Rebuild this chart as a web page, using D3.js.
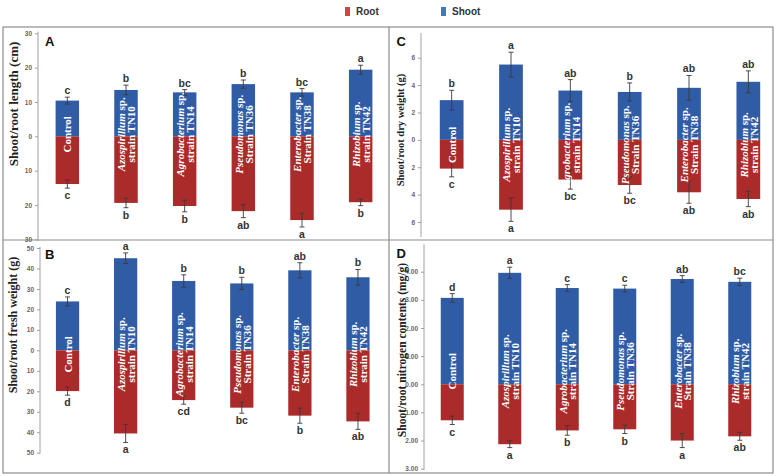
<!DOCTYPE html>
<html><head><meta charset="utf-8">
<script src="https://cdn.jsdelivr.net/npm/d3@7"></script>
<style>body{margin:0;background:#fff}svg{display:block}</style>
</head><body><svg id="chart" width="777" height="476"></svg>
<script>
// ---------- DATA ----------
const categories = ["Control","Azospirillum","Agrobacterium","Pseudomonas","Enterobacter","Rhizobium"];
const labelGenus  = ["Control","Azospirillum","Agrobacterium","Pseudomonas","Enterobacter","Rhizobium"];
const labelStrain = ["","strain TN10","strain TN14","Strain TN36","Strain TN38","strain TN42"];
const legendLabels = ["Root","Shoot"];

// A: Shoot/root length (cm)
const lengthShoot = [10.4, 13.5, 12.8, 15.2, 12.8, 19.4];
const lengthShootErr = [1.0, 1.4, 0.8, 1.2, 1.1, 1.3];
const lengthRoot = [13.9, 19.4, 20.3, 21.8, 24.4, 19.2];
const lengthRootErr = [1.2, 1.4, 1.7, 1.9, 2.0, 1.0];
const lengthShootLetters = ["c","b","bc","b","bc","a"];
const lengthRootLetters = ["c","b","b","ab","a","b"];
const lengthTicks = [30,20,10,0,-10,-20,-30];

// B: Shoot/root fresh weight (g)
const freshShoot = [23.9, 45.0, 33.9, 32.7, 39.1, 35.7];
const freshShootErr = [2.2, 2.6, 3.0, 3.0, 3.7, 3.8];
const freshRoot = [19.9, 40.6, 24.3, 28.0, 31.9, 34.7];
const freshRootErr = [2.0, 4.4, 2.0, 2.7, 3.7, 3.9];
const freshShootLetters = ["c","a","b","b","ab","b"];
const freshRootLetters = ["d","a","cd","bc","b","ab"];
const freshTicks = [50,40,30,20,10,0,-10,-20,-30,-40,-50];

// C: Shoot/root dry weight (g)
const dryShoot = [2.9, 5.5, 3.6, 3.5, 3.8, 4.24];
const dryShootErr = [0.72, 0.9, 0.8, 0.66, 0.9, 0.8];
const dryRoot = [2.1, 5.1, 2.9, 3.3, 3.83, 4.32];
const dryRootErr = [0.6, 0.85, 0.7, 0.6, 0.8, 0.56];
const dryShootLetters = ["b","a","ab","b","ab","ab"];
const dryRootLetters = ["c","a","bc","bc","ab","ab"];
const dryTicks = [6,4,2,0,-2,-4,-6];

// D: Shoot/root nitrogen contents (mg/g)
const nitroShoot = [3.07, 3.96, 3.42, 3.40, 3.74, 3.64];
const nitroShootErr = [0.15, 0.2, 0.12, 0.12, 0.12, 0.13];
const nitroRoot = [1.28, 2.13, 1.64, 1.60, 2.00, 1.85];
const nitroRootErr = [0.15, 0.12, 0.17, 0.15, 0.25, 0.14];
const nitroShootLetters = ["d","a","c","c","ab","bc"];
const nitroRootLetters = ["c","a","b","b","a","ab"];
const nitroTicks = [4,3,2,1,0,-1,-2,-3];

// ---------- LAYOUT / STYLE ----------
const RED = "#ab2a2a", BLUE = "#2f5ca5";
const SERIF = "'Liberation Serif','Times New Roman',serif";
const SANS = "'Liberation Sans',Arial,sans-serif";

const panels = [
  {letter:"A", title:"Shoot/root length (cm)", shoot:lengthShoot, shootErr:lengthShootErr, root:lengthRoot, rootErr:lengthRootErr,
   sL:lengthShootLetters, rL:lengthRootLetters, ticks:lengthTicks, fmt:d3.format("d"),
   domain:[30,-30], yRange:[33.3,239.3], axisExt:[30.5,-30.5], xRange:[38,390], axisX:38,
   titleX:13, titleY:104, titleSize:13, letterX:45, letterY:46, labelShift:-2},
  {letter:"B", title:"Shoot/root fresh weight (g)", shoot:freshShoot, shootErr:freshShootErr, root:freshRoot, rootErr:freshRootErr,
   sL:freshShootLetters, rL:freshRootLetters, ticks:freshTicks, fmt:d3.format("d"),
   domain:[50,-50], yRange:[248,452.7], axisExt:[50.5,-50.5], xRange:[38.5,387], axisX:40,
   titleX:13, titleY:325, titleSize:12, letterX:45, letterY:259, labelShift:4},
  {letter:"C", title:"Shoot/root dry weight (g)", shoot:dryShoot, shootErr:dryShootErr, root:dryRoot, rootErr:dryRootErr,
   sL:dryShootLetters, rL:dryRootLetters, ticks:dryTicks, fmt:d3.format("d"),
   domain:[6,-6], yRange:[57.7,222], axisExt:[7.8,-7.1], xRange:[422,778], axisX:421,
   titleX:400, titleY:130, titleSize:10.5, letterX:396.5, letterY:46, labelShift:5},
  {letter:"D", title:"Shoot/root nitrogen contents (mg/g)", shoot:nitroShoot, shootErr:nitroShootErr, root:nitroRoot, rootErr:nitroRootErr,
   sL:nitroShootLetters, rL:nitroRootLetters, ticks:nitroTicks, fmt:d3.format(".2f"),
   domain:[4,-3], yRange:[271.7,468.7], axisExt:[4.97,-3.05], xRange:[423.5,768.5], axisX:424,
   titleX:402, titleY:350, titleSize:11.5, letterX:396.5, letterY:258, labelShift:-13}
];

const svg = d3.select("#chart");
svg.append("rect").attr("width",777).attr("height",476).attr("fill","#fff");

// legend
const legendX = d3.scaleOrdinal().domain(legendLabels).range([345, 441]);
const legendColor = d3.scaleOrdinal().domain(legendLabels).range(["#cf4446","#3b7bc4"]);
legendLabels.forEach(l => {
  svg.append("rect").attr("x", legendX(l)).attr("y", 7).attr("width", 5).attr("height", 9).attr("fill", legendColor(l));
  svg.append("text").attr("x", legendX(l) + 11).attr("y", 15).text(l)
    .attr("font-family", SANS).attr("font-weight","bold").attr("font-size",10).attr("fill","#333");
});

// frame
const frame = svg.append("g").attr("stroke","#8c8c8c").attr("stroke-width",1.2).attr("fill","none");
frame.append("rect").attr("x",3).attr("y",27).attr("width",770).attr("height",446);
frame.append("line").attr("x1",389).attr("x2",389).attr("y1",27).attr("y2",473);
frame.append("line").attr("x1",3).attr("x2",773).attr("y1",240).attr("y2",240);

function drawPanel(p){
  const g = svg.append("g");
  const y = d3.scaleLinear().domain(p.domain).range(p.yRange);
  const x = d3.scaleBand().domain(categories).range(p.xRange).paddingInner(0.6).paddingOuter(0.3);
  const bw = x.bandwidth();

  // axis
  const ag = g.append("g").attr("transform",`translate(${p.axisX},0)`)
    .call(d3.axisLeft(y).tickValues(p.ticks).tickSize(3).tickPadding(3).tickFormat(v => p.fmt(Math.abs(v))));
  ag.select(".domain").remove();
  ag.append("line").attr("x1",0).attr("x2",0).attr("y1",y(p.axisExt[0])).attr("y2",y(p.axisExt[1]))
    .attr("stroke","#a0a0a0").attr("stroke-width",1);
  ag.selectAll(".tick line").attr("stroke","#a0a0a0");
  ag.selectAll(".tick text").attr("fill","#666").attr("font-family",SANS).attr("font-weight","bold").attr("font-size",6.5);

  // bars
  g.selectAll(".shoot").data(categories).join("rect")
    .attr("x", c => x(c)).attr("width", bw)
    .attr("y", (c,i) => y(p.shoot[i])).attr("height", (c,i) => y(0) - y(p.shoot[i]))
    .attr("fill", BLUE);
  g.selectAll(".root").data(categories).join("rect")
    .attr("x", c => x(c)).attr("width", bw)
    .attr("y", y(0)).attr("height", (c,i) => y(-p.root[i]) - y(0))
    .attr("fill", RED);

  // error bars
  const eg = g.append("g").attr("stroke","#3a3a3a").attr("stroke-width",0.9);
  categories.forEach((c,i) => {
    const cx = x(c) + bw/2;
    const s0 = y(p.shoot[i] - p.shootErr[i]), s1 = y(p.shoot[i] + p.shootErr[i]);
    const r0 = y(-(p.root[i] - p.rootErr[i])), r1 = y(-(p.root[i] + p.rootErr[i]));
    [[s0,s1],[r0,r1]].forEach(([a,b]) => {
      eg.append("line").attr("x1",cx).attr("x2",cx).attr("y1",a).attr("y2",b);
      eg.append("line").attr("x1",cx-2.5).attr("x2",cx+2.5).attr("y1",a).attr("y2",a);
      eg.append("line").attr("x1",cx-2.5).attr("x2",cx+2.5).attr("y1",b).attr("y2",b);
    });
    // significance letters
    g.append("text").attr("x",cx).attr("y", s1 - 3).attr("text-anchor","middle").text(p.sL[i])
      .attr("font-family",SANS).attr("font-weight","bold").attr("font-size",10.5).attr("fill","#333");
    g.append("text").attr("x",cx).attr("y", r1 + 11).attr("text-anchor","middle").text(p.rL[i])
      .attr("font-family",SANS).attr("font-weight","bold").attr("font-size",10.5).attr("fill","#333");

    // in-bar labels
    const t = g.append("text").attr("transform",`translate(${cx},${y(0)+p.labelShift}) rotate(-90)`)
      .attr("text-anchor","middle").attr("dominant-baseline","central")
      .attr("font-family",SERIF).attr("font-weight","bold").attr("font-size",11).attr("fill","#fff");
    if (labelStrain[i] === "") {
      t.append("tspan").attr("x",0).attr("y",0).text(labelGenus[i]);
    } else {
      t.append("tspan").attr("x",0).attr("y",-4.6).attr("font-style","italic").text(labelGenus[i]);
      t.append("tspan").text(" sp.");
      t.append("tspan").attr("x",0).attr("y",5.2).text(labelStrain[i]);
    }
  });

  // title
  g.append("text").attr("transform",`translate(${p.titleX},${p.titleY}) rotate(-90)`)
    .attr("text-anchor","middle").attr("dominant-baseline","central").text(p.title)
    .attr("font-family",SERIF).attr("font-weight","bold").attr("font-size",p.titleSize).attr("fill","#222");

  // panel letter
  g.append("text").attr("x",p.letterX).attr("y",p.letterY).text(p.letter)
    .attr("font-family",SANS).attr("font-weight","bold").attr("font-size",13).attr("fill","#111");
}

panels.forEach(drawPanel);
</script>
</body></html>
